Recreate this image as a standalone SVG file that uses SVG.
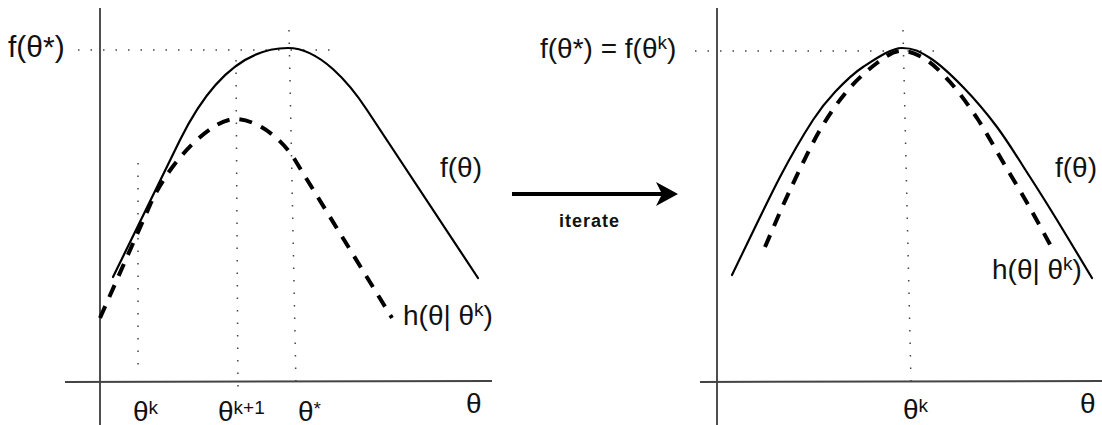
<svg xmlns="http://www.w3.org/2000/svg" width="1102" height="425" viewBox="0 0 1102 425">
  <style>
    .axis { stroke: #222; stroke-width: 1.6; fill: none; }
    .haxis { stroke: #444; stroke-width: 2; fill: none; }
    .dot { stroke: #444; stroke-width: 1.5; stroke-dasharray: 1.5 11; fill: none; }
    .f { stroke: #000; stroke-width: 2.2; fill: none; stroke-linecap: round; stroke-linejoin: round; }
    .h { stroke: #000; stroke-width: 4; fill: none; stroke-dasharray: 13 10; }
    .lbl { font-family: "Liberation Sans", Arial, sans-serif; font-size: 28px; fill: #111; }
    .sup { font-size: 19px; }
    .it { font-family: "Liberation Sans", Arial, sans-serif; font-size: 18px; font-weight: bold; letter-spacing: 1px; fill: #111; }
  </style>
  <defs>
    <marker id="head" markerWidth="22" markerHeight="24" refX="14" refY="12" orient="auto" markerUnits="userSpaceOnUse" viewBox="0 0 22 24">
      <path d="M0,0 L22,12 L0,24 L6,12 Z" fill="#000"/>
    </marker>
  </defs>
  <rect width="1102" height="425" fill="#fff"/>

  <g id="left-panel">
    <line class="axis" x1="100" y1="8" x2="100" y2="425"/>
    <line class="haxis" x1="65" y1="382" x2="492" y2="381"/>
    <line class="dot" x1="78" y1="50" x2="330" y2="50"/>
    <line class="dot" x1="138" y1="163" x2="138" y2="372"/>
    <line class="dot" x1="236" y1="60" x2="238" y2="392"/>
    <line class="dot" x1="289" y1="30" x2="296" y2="385"/>
    <path id="left-f" class="f" d="M113,277 L180,140 C210,79 245,48 288,48 C320,48 350,84 367,110 L478,278"/>
    <path id="left-h" class="h" d="M100,318 L150,205 C170,160 212,119 235,119 C255,119 280,136 295,160 L392,318"/>
    <text class="lbl" x="8" y="57" style="font-size:30px">f(θ*)</text>
    <text class="lbl" x="440" y="177">f(θ)</text>
    <text class="lbl" x="403" y="325">h(θ| θ<tspan class="sup" dy="-9">k</tspan><tspan dy="9">)</tspan></text>
    <text class="lbl" x="133" y="421">θ<tspan class="sup" dy="-7">k</tspan></text>
    <text class="lbl" x="218" y="421">θ<tspan class="sup" dy="-7">k+1</tspan></text>
    <text class="lbl" x="298" y="421">θ<tspan class="sup" dy="-6">*</tspan></text>
    <text class="lbl" x="466" y="413">θ</text>
  </g>

  <g id="connectors">
    <line x1="512" y1="194" x2="670" y2="194" stroke="#000" stroke-width="4" marker-end="url(#head)"/>
    <text class="it" x="559" y="227">iterate</text>
  </g>

  <g id="right-panel">
    <line class="axis" x1="717" y1="8" x2="717" y2="425"/>
    <line class="haxis" x1="700" y1="382" x2="1102" y2="381"/>
    <line class="dot" x1="695" y1="51" x2="940" y2="51"/>
    <line class="dot" x1="903" y1="30" x2="911" y2="382"/>
    <path id="right-f" class="f" d="M732,275 C740,258.7 766.5,202.8 780,177 C793.5,151.2 803.8,134.2 813,120 C822.2,105.8 826.7,100.8 835,92 C843.3,83.2 851.8,74.3 863,67 C874.2,59.7 890.8,48 902,48 C913.2,48 919.8,51.5 930,58 C940.2,64.5 951.8,75.5 963,87 C974.2,98.5 985.8,112 997,127 C1008.2,142 1020,161.5 1030,177 C1040,192.5 1046.7,203.2 1057,220 C1067.3,236.8 1086.2,268.3 1092,278"/>
    <path id="right-h" class="h" d="M765,247 C769.2,237.5 780.8,209.5 790,190 C799.2,170.5 810.3,146.7 820,130 C829.7,113.3 838.5,101.2 848,90 C857.5,78.8 868.3,69.5 877,63 C885.7,56.5 892,51.7 900,51 C908,50.3 916.7,53.8 925,59 C933.3,64.2 941.3,72.2 950,82 C958.7,91.8 968.2,104.7 977,118 C985.8,131.3 994.2,147 1003,162 C1011.8,177 1021.7,193.3 1030,208 C1038.3,222.7 1049.2,243 1053,250"/>
    <text class="lbl" x="540" y="58">f(θ*) = f(θ<tspan class="sup" dy="-9">k</tspan><tspan dy="9">)</tspan></text>
    <text class="lbl" x="1055" y="177">f(θ)</text>
    <text class="lbl" x="992" y="279">h(θ| θ<tspan class="sup" dy="-9">k</tspan><tspan dy="9">)</tspan></text>
    <text class="lbl" x="903" y="419">θ<tspan class="sup" dy="-7">k</tspan></text>
    <text class="lbl" x="1080" y="413">θ</text>
  </g>
</svg>
